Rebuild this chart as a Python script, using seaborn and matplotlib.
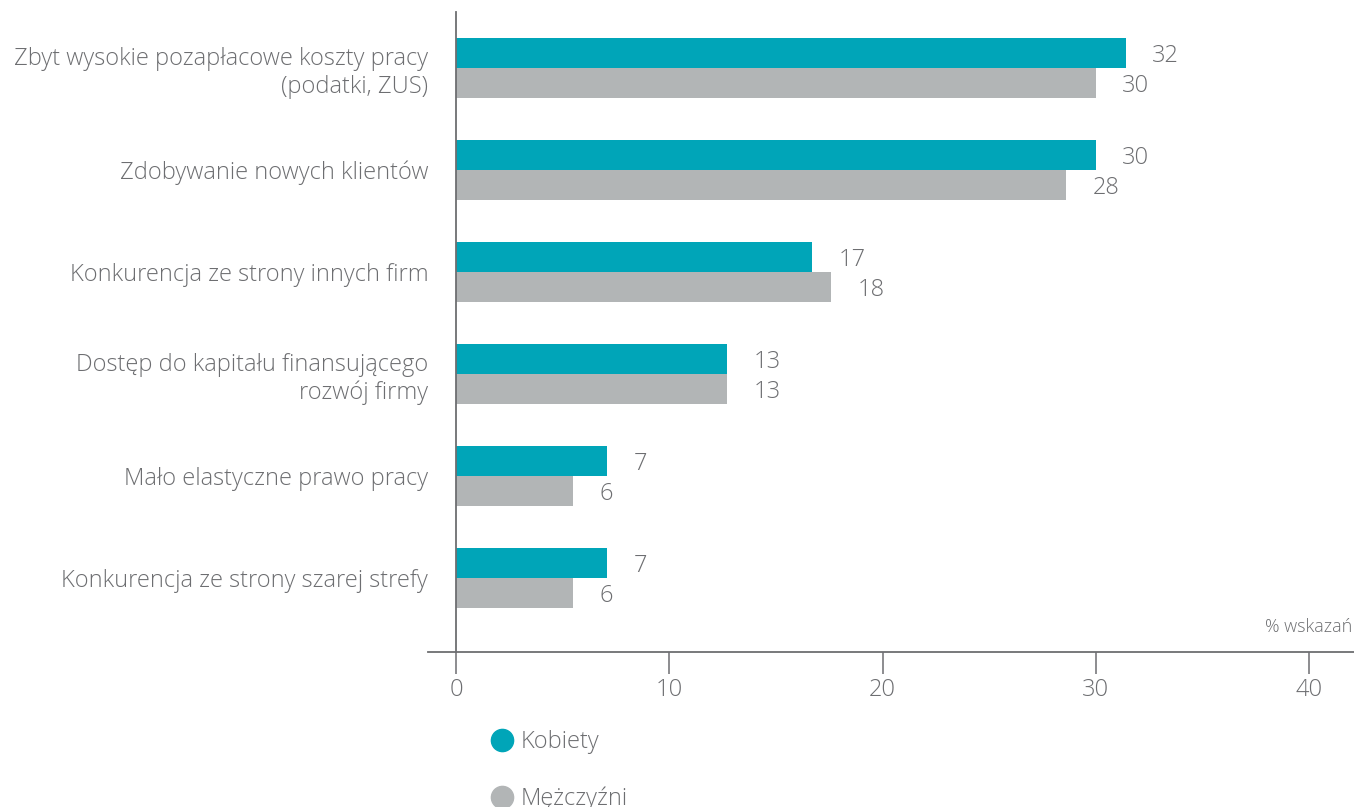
import matplotlib
matplotlib.use("Agg")
import matplotlib.pyplot as plt
from matplotlib.lines import Line2D
import numpy as np
import pandas as pd
import seaborn as sns

# data
categories = ["Zbyt wysokie pozapłacowe koszty pracy\n(podatki, ZUS)",
              "Zdobywanie nowych klientów",
              "Konkurencja ze strony innych firm",
              "Dostęp do kapitału finansującego\nrozwój firmy",
              "Mało elastyczne prawo pracy",
              "Konkurencja ze strony szarej strefy"]
series = ["Kobiety", "Mężczyźni"]
kobiety = [31.4, 30.0, 16.7, 12.7, 7.1, 7.1]
mezczyzni = [30.0, 28.6, 17.6, 12.7, 5.5, 5.5]
kobiety_lbl = ["32", "30", "17", "13", "7", "7"]
mezczyzni_lbl = ["30", "28", "18", "13", "6", "6"]
xticks = [0, 10, 20, 30, 40]

teal = "#00a5b8"
grey = "#b2b5b6"
txt = "#6d6e71"

sns.set_style("white")
plt.rcParams['font.family'] = ['Open Sans', 'DejaVu Sans']
plt.rcParams['font.weight'] = 'light'

df = pd.DataFrame({
    "cat": categories * 2,
    "val": kobiety + mezczyzni,
    "who": [series[0]] * 6 + [series[1]] * 6,
})

fig = plt.figure(figsize=(13.54, 8.07), dpi=100)
ax = fig.add_axes([428 / 1354, 1 - 652 / 807, 1 - 428 / 1354, 640 / 807])

sns.barplot(data=df, x="val", y="cat", hue="who", orient="h",
            palette=[teal, grey], width=0.588, saturation=1,
            linewidth=0, legend=False, ax=ax)

ax.set_xlim(-1.31, 42.1)
ax.set_ylim(5.725, -0.549)
ax.set_xlabel("")
ax.set_ylabel("")

for spine in ["top", "right"]:
    ax.spines[spine].set_visible(False)
ax.spines["left"].set_position(("data", 0))
ax.spines["left"].set_color(txt)
ax.spines["left"].set_linewidth(1.3)
ax.spines["bottom"].set_color(txt)
ax.spines["bottom"].set_linewidth(1.3)

ax.set_xticks(xticks)
ax.tick_params(axis="x", bottom=True, length=16, width=1.1, color=txt,
               labelcolor=txt, labelsize=17, pad=3)
ax.tick_params(axis="y", left=False, length=0, labelcolor=txt, labelsize=17,
               pad=20)
for lab in ax.get_yticklabels():
    lab.set_horizontalalignment("right")
    lab.set_multialignment("right")

# value labels
for cont, lbls in zip(ax.containers, [kobiety_lbl, mezczyzni_lbl]):
    for bar, lbl in zip(cont, lbls):
        ax.annotate(lbl, (bar.get_width(), bar.get_y() + bar.get_height() / 2),
                    xytext=(19, 0), textcoords="offset points",
                    ha="left", va="center_baseline", fontsize=17, color=txt)

fig.text(1352 / 1354, 1 - 627 / 807, "% wskazań", ha="right", va="center",
         fontsize=13, color=txt)

handles = [Line2D([], [], marker="o", linestyle="", markersize=16,
                  markerfacecolor=c, markeredgecolor=c) for c in [teal, grey]]
fig.legend(handles, series, loc="upper left",
           bbox_to_anchor=(478 / 1354, 1 - 721 / 807), frameon=False,
           fontsize=17, labelcolor=txt, labelspacing=1.35,
           handletextpad=0.2, handlelength=1.2, borderaxespad=0)

fig.savefig("out.png", dpi=100)
